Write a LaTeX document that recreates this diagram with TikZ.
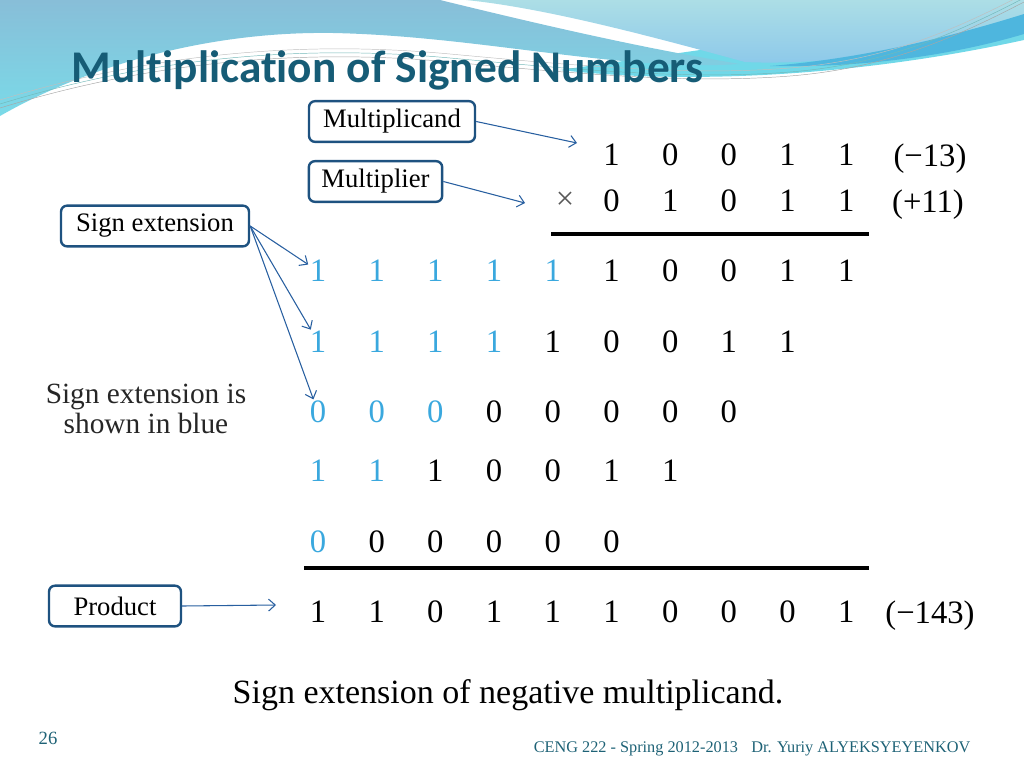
\documentclass[tikz,border=0pt]{standalone}
\usepackage{fontspec}
\setmainfont{Liberation Serif}
\newfontfamily\titlefont{Carlito}[Ligatures=NoCommon]
\usetikzlibrary{arrows.meta}

\definecolor{titleteal}{RGB}{22,92,118}
\definecolor{footteal}{RGB}{30,98,118}
\definecolor{boxblue}{RGB}{30,82,128}
\definecolor{arrowblue}{RGB}{40,95,160}
\definecolor{signblue}{RGB}{58,168,222}
\definecolor{waveA}{RGB}{136,190,216}
\definecolor{waveB}{RGB}{122,218,232}
\definecolor{waveC}{RGB}{172,222,230}
\definecolor{waveD}{RGB}{140,200,234}
\definecolor{waveE}{RGB}{78,182,222}
\definecolor{waveF}{RGB}{112,216,232}

% one row of bits: name, y, first column, number of blue bits, bits
\newcommand{\bitrow}[5]{%
  \foreach \d [count=\k from #3] in {#5} {
    \pgfmathsetmacro{\cx}{318+58.7*\k}
    \ifnum\k<\numexpr#3+#4\relax \def\bc{signblue}\else\def\bc{black}\fi
    \node[bit,text=\bc] (#1-\k) at (\cx,#2) {\d};
  }}

\begin{document}
\begin{tikzpicture}[x=0.75pt,y=-0.75pt,
  bit/.style={font=\fontsize{24.5}{28}\selectfont,inner sep=1pt},
  lbl/.style={draw=boxblue,line width=1.8pt,rounded corners=4.5pt,fill=white,
    font=\fontsize{20}{22}\selectfont,minimum height=30.5pt,inner sep=2pt},
  ptr/.style={arrowblue,line width=0.8pt,-{Straight Barb[length=5pt,width=9pt]}},
  waveline/.style={line width=0.35pt}
]
\useasboundingbox (0,0) rectangle (1024,768);

% The waves
\fill[waveF] (560,70) .. controls (680,84) and (850,78) .. (1024,40) -- (1024,18) -- (700,50) -- cycle;
\shade[top color=waveA,bottom color=waveB] (0,0) -- (440,0) .. controls (530,22) and (640,48) .. (740,64)
  .. controls (620,72) and (480,36) .. (333,33) .. controls (200,31) and (80,70) .. (0,116) -- cycle;
\shade[top color=waveC,bottom color=waveD] (466,0) -- (1024,0) -- (1024,22) .. controls (940,48) and (830,66) .. (745,62)
  .. controls (650,36) and (545,8) .. (466,0) -- cycle;
\fill[waveE] (770,66) .. controls (870,58) and (960,34) .. (1024,14) -- (1024,34) .. controls (950,56) and (860,68) .. (770,66) -- cycle;
\foreach \s/\c in {0/black!35,3/teal!55,6/black!25}
  \draw[waveline,\c,yshift=\s] (0,108) .. controls (150,62) and (300,48) .. (450,62)
    .. controls (580,74) and (690,84) .. (790,76) .. controls (890,68) and (960,35) .. (1024,2);

% The title
\node[anchor=base west,font=\titlefont\bfseries\fontsize{34}{40}\selectfont,text=titleteal] (title) at (67,82) {Multiplication of Signed Numbers};

% The bits
\bitrow{mc}{155}{5}{0}{1,0,0,1,1}
\bitrow{ml}{201}{5}{0}{0,1,0,1,1}
\bitrow{pa}{271}{0}{5}{1,1,1,1,1,1,0,0,1,1}
\bitrow{pb}{342}{0}{4}{1,1,1,1,1,0,0,1,1}
\bitrow{pc}{412}{0}{3}{0,0,0,0,0,0,0,0}
\bitrow{pd}{471}{0}{2}{1,1,1,0,0,1,1}
\bitrow{pe}{542}{0}{1}{0,0,0,0,0,0}
\bitrow{pr}{612}{0}{0}{1,1,0,1,1,1,0,0,0,1}
\node[bit,text=black!65] (times) at (565,201) {×};
\node[bit,anchor=base] (mcval) at (930,166) {(−13)};
\node[bit,anchor=base] (mlval) at (928,212) {(+11)};
\node[bit,anchor=base] (prval) at (930,623) {(−143)};
\draw[line width=3pt] (551,234) -- (869,234);
\draw[line width=3pt] (304,568) -- (869,568);

% The boxes
\node[lbl,minimum width=124.5pt] (mcand) at (392,121.5) {Multiplicand};
\node[lbl,minimum width=100pt] (mplier) at (375.5,181.5) {Multiplier};
\node[lbl,minimum width=141pt] (sgn) at (155,226) {Sign extension};
\node[lbl,minimum width=99pt] (prod) at (115,606) {Product};

% The arrows
\coordinate (mcend) at (577,143);
\coordinate (mlend) at (525,203);
\coordinate (prend) at (276,605);
\draw[ptr] (mcand.east) -- (mcend);
\draw[ptr] (mplier.east) -- (mlend);
\draw[ptr] (prod.east) -- (prend);
\foreach \r in {pa,pb,pc}
  \draw[ptr] (sgn.east) -- (\r-0);

% The texts
\node[align=center,font=\fontsize{22}{22}\selectfont,text=black!85] (note) at (146,409) {Sign extension is\\shown in blue};
\node[font=\fontsize{25.5}{28}\selectfont] (cap) at (508,695) {Sign extension of negative multiplicand.};
\node[anchor=base west,font=\fontsize{14}{16}\selectfont,text=footteal] (page) at (34,744) {26};
\node[anchor=base east,font=\fontsize{12.2}{14}\selectfont,text=footteal] (foot) at (975,752) {CENG 222 - Spring 2012-2013\hspace{7pt} Dr. Yuriy ALYEKSYEYENKOV};
\end{tikzpicture}
\end{document}
